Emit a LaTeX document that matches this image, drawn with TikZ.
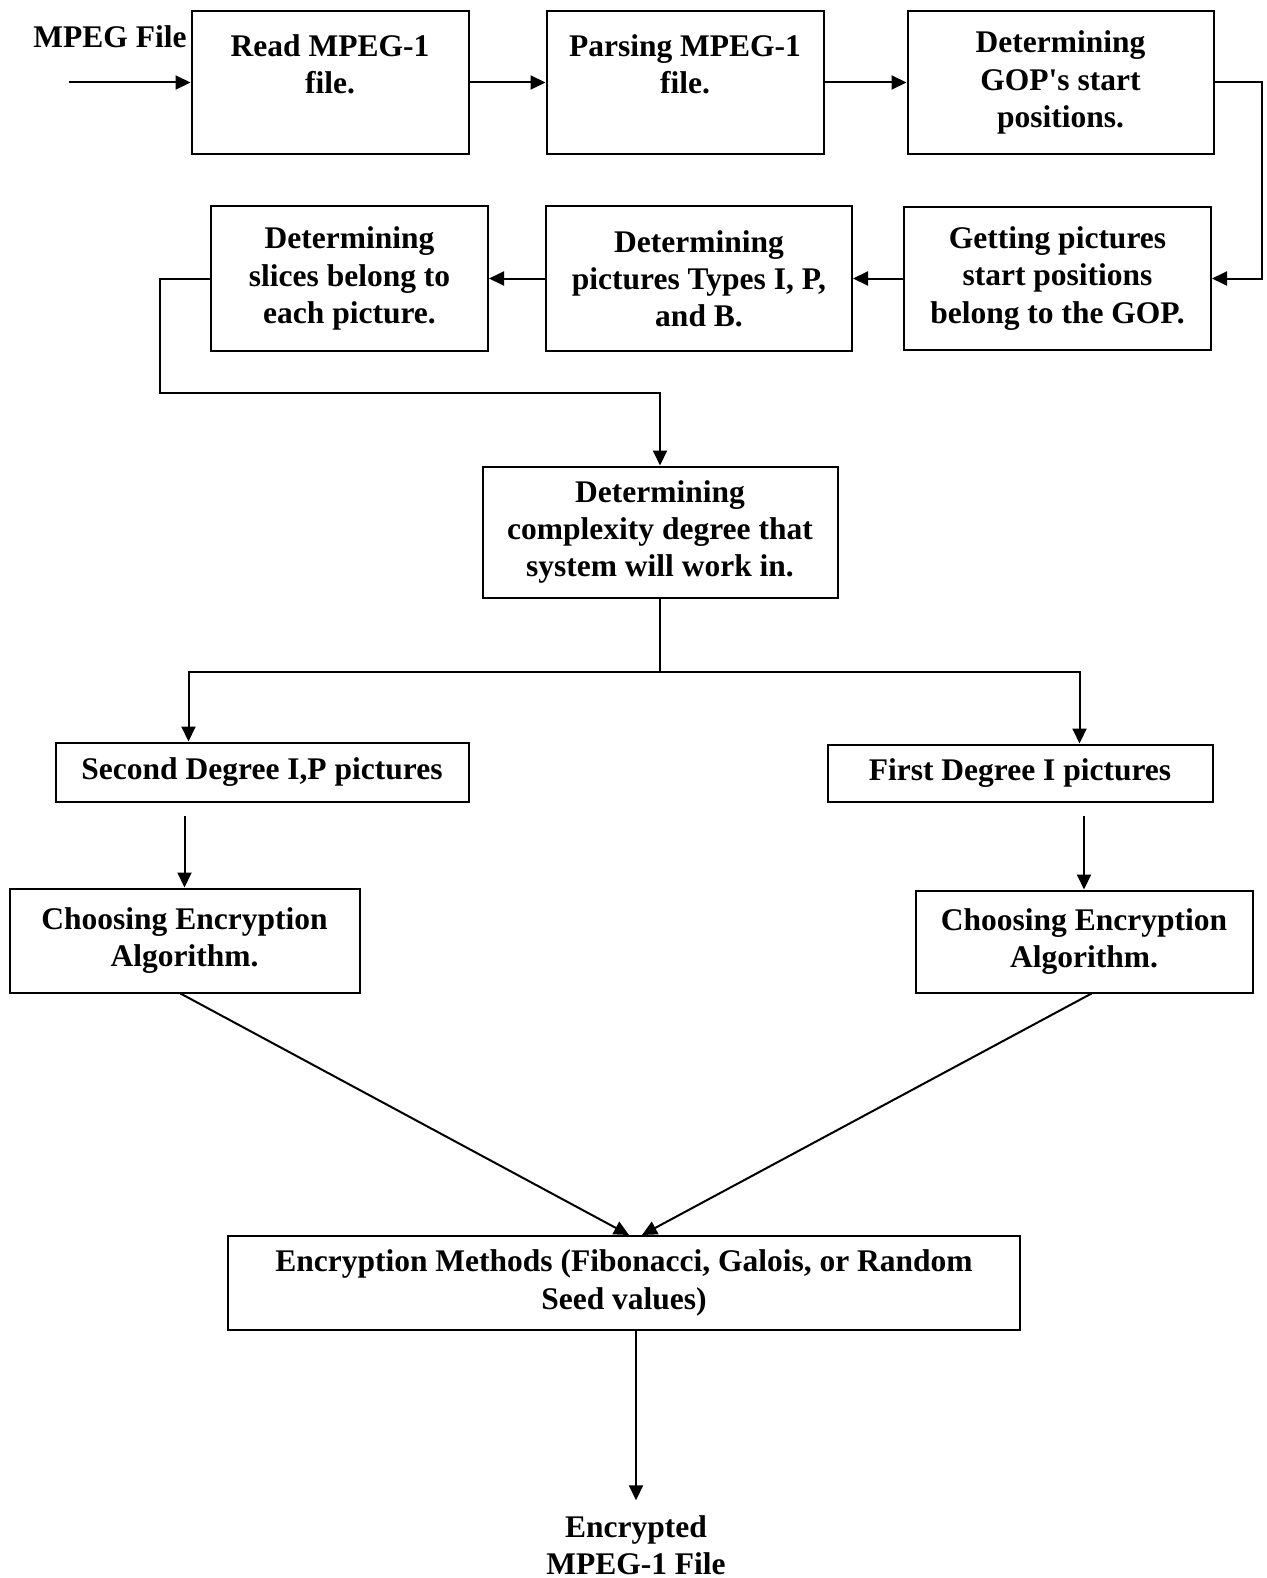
\documentclass[tikz,border=0pt]{standalone}
\usepackage{fontspec}
\setmainfont{Liberation Serif}
\usetikzlibrary{positioning,arrows.meta,calc}
\tikzset{
  >={Triangle[length=7.5pt,width=7pt]},
  every node/.style={font=\fontsize{15.75}{18.6}\selectfont\bfseries, text=black},
  box/.style={draw, line width=1pt, align=center, inner sep=2pt},
  flow/.style={->, line width=1pt, draw=black},
}
\begin{document}
\begin{tikzpicture}
  \useasboundingbox (0,0) rectangle (633.5pt,-789pt);

  % first row
  \node[box, minimum width=138.5pt, minimum height=71.5pt] (read) at (165pt,-41.25pt) {Read MPEG-1\\ file.\\ \mbox{}};
  \node[box, minimum width=138.5pt, minimum height=71.5pt, right=38pt of read] (pars) {Parsing MPEG-1\\ file.\\ \mbox{}};
  \node[box, minimum width=153pt, minimum height=71.5pt, right=41pt of pars] (gop) {Determining\\ GOP\textquotesingle s start\\ positions.};
  \node (mpeg) at (55pt,-18.5pt) {MPEG File};
  \coordinate (in) at ($(read.west)+(-61pt,0)$);

  % second row
  \node[box, minimum width=153.5pt, minimum height=71.5pt, below=25.5pt of gop, xshift=-1.5pt] (get) {Getting pictures\\ start positions\\ belong to the GOP.};
  \node[box, minimum width=153pt, minimum height=72pt, left=25pt of get] (typ) {Determining\\ pictures Types I, P,\\ and B.};
  \node[box, minimum width=138.5pt, minimum height=72pt, left=28pt of typ] (slc) {Determining\\ slices belong to\\ each picture.};

  \node[box, minimum width=177.5pt, minimum height=65.5pt, below=57pt of typ, xshift=-19.5pt] (cplx) {Determining\\ complexity degree that\\ system will work in.};

  \node[box, minimum width=206.5pt, minimum height=29.5pt, below=71.5pt of cplx, xshift=-199pt] (sec) {Second Degree I,P pictures};
  \node[box, minimum width=192.5pt, minimum height=28.5pt, below=72.5pt of cplx, xshift=180pt] (fst) {First Degree I pictures};
  \node[box, minimum width=175pt, minimum height=52pt, below=42.5pt of sec, xshift=-38.75pt] (chL) {Choosing Encryption\\ Algorithm.};
  \node[box, minimum width=168.5pt, minimum height=51pt, below=43.5pt of fst, xshift=32pt] (chR) {Choosing Encryption\\ Algorithm.};

  \node[box, minimum width=396pt, minimum height=47pt] (enc) at (312pt,-641.5pt) {Encryption Methods (Fibonacci, Galois, or Random\\ Seed values)};
  \node[align=center] (out) at (318pt,-772.5pt) {Encrypted\\ MPEG-1 File};

  \draw[flow] (in) -- (read);
  \draw[flow] (read) -- (pars);
  \draw[flow] (pars) -- (gop);
  \draw[flow] (gop.east) -- ++(23.5pt,0) |- (get.east);
  \draw[flow] (get) -- (typ);
  \draw[flow] (typ) -- (slc);
  \draw[flow] (slc.west) -- ++(-25pt,0) |- ($(cplx.north)+(0,36.5pt)$) -- (cplx.north);

  % split into the two degrees
  \coordinate (br) at ($(cplx.south)+(0,-36.5pt)$);
  \draw[flow] (cplx.south) -- (br) -| ([xshift=29.75pt]fst.north);
  \draw[flow] (br) -| ([xshift=-36.75pt]sec.north);

  \coordinate (secOut) at ($(chL.north |- sec.south)+(0,-6.5pt)$);
  \coordinate (fstOut) at ($(chR.north |- fst.south)+(0,-6.5pt)$);
  \draw[flow] (secOut) -- (chL.north);
  \draw[flow] (fstOut) -- (chR.north);

  \draw[flow] ([xshift=-2pt]chL.south) -- ([xshift=2.5pt]enc.north);
  \draw[flow] ([xshift=3.75pt]chR.south) -- ([xshift=9pt]enc.north);
  \draw[flow, shorten >=4pt] ([xshift=6pt]enc.south) -- (out.north);
\end{tikzpicture}
\end{document}
